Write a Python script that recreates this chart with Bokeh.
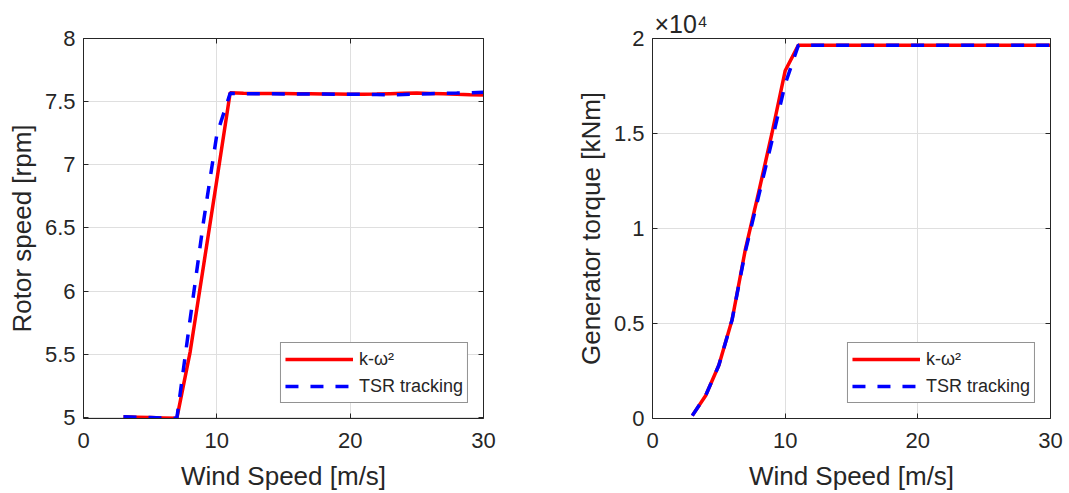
from bokeh.plotting import figure
from bokeh.layouts import row
from bokeh.models import Range1d, LinearAxis, FixedTicker, Title, Legend, LegendItem
from bokeh.embed import file_html
from bokeh.resources import INLINE

# ---------------- data ----------------
wind_speed = list(range(3, 31))

rotor_k_omega2 = [5.005, 5.002, 4.999, 4.996, 4.993, 5.52, 6.20, 6.88, 7.571,
                  7.566, 7.565, 7.565, 7.564, 7.563, 7.562, 7.561, 7.560, 7.558,
                  7.558, 7.560, 7.563, 7.566, 7.568, 7.565, 7.562, 7.558, 7.555, 7.553]
rotor_tsr = [5.005, 5.002, 4.999, 4.996, 4.993, 5.78, 6.55, 7.24, 7.566,
             7.563, 7.562, 7.562, 7.561, 7.561, 7.560, 7.560, 7.559, 7.559,
             7.558, 7.556, 7.553, 7.556, 7.560, 7.563, 7.566, 7.568, 7.571, 7.574]

torque_k_omega2 = [150, 1200, 2800, 5200, 8900, 11900, 15000, 18300, 19650] + [19650] * 19
torque_tsr = [150, 1200, 2800, 5200, 8800, 11700, 14600, 17600, 19650] + [19650] * 19

x_ticks = [0, 10, 20, 30]
rotor_ticks = [5, 5.5, 6, 6.5, 7, 7.5, 8]
rotor_tick_labels = ["5", "5.5", "6", "6.5", "7", "7.5", "8"]
torque_ticks = [0, 5000, 10000, 15000, 20000]
torque_tick_labels = ["0", "0.5", "1", "1.5", "2"]
torque_exponent = "×10⁴"

series_labels = ["k-ω²", "TSR tracking"]
x_label = "Wind Speed [m/s]"

FONT = "Liberation Sans"
TXT = "#262626"
GRID = "#dfdfdf"


def style_axis(ax, ticks, labels=None, show_labels=True):
    ax.ticker = FixedTicker(ticks=ticks)
    if labels is not None:
        ax.major_label_overrides = {t: l for t, l in zip(ticks, labels)}
    ax.axis_line_color = TXT
    ax.axis_line_width = 1
    ax.major_tick_line_color = TXT
    ax.major_tick_in = 5
    ax.major_tick_out = 0
    ax.minor_tick_line_color = None
    ax.major_label_text_font = FONT
    ax.major_label_text_font_size = "22px" if show_labels else "0px"
    ax.major_label_text_color = TXT if show_labels else None
    ax.major_label_standoff = 8
    ax.axis_label_text_font = FONT
    ax.axis_label_text_font_size = "26px"
    ax.axis_label_text_font_style = "normal"
    ax.axis_label_text_color = TXT


def make_fig(width, left, right, y_range, y_ticks, y_labels, y_title, ys_red, ys_blue):
    p = figure(width=width, height=493, output_backend="svg", toolbar_location=None,
               x_range=Range1d(0, 30), y_range=y_range,
               min_border_left=left, min_border_right=right,
               min_border_top=38, min_border_bottom=75)
    p.outline_line_color = None
    p.background_fill_color = "white"
    p.border_fill_color = "white"
    style_axis(p.xaxis[0], x_ticks)
    style_axis(p.yaxis[0], y_ticks, y_labels)
    p.xaxis[0].major_label_standoff = 14
    p.xaxis[0].axis_label = x_label
    p.xaxis[0].axis_label_standoff = 10
    p.yaxis[0].axis_label = y_title
    p.yaxis[0].axis_label_standoff = 5
    top = LinearAxis()
    style_axis(top, x_ticks, show_labels=False)
    rgt = LinearAxis()
    style_axis(rgt, y_ticks, show_labels=False)
    p.add_layout(top, "above")
    p.add_layout(rgt, "right")
    p.xgrid.ticker = FixedTicker(ticks=x_ticks)
    p.ygrid.ticker = FixedTicker(ticks=y_ticks)
    p.xgrid.grid_line_color = GRID
    p.ygrid.grid_line_color = GRID
    r1 = p.line(wind_speed, ys_red, line_color="#ff0000", line_width=3.5)
    r2 = p.line(wind_speed, ys_blue, line_color="#0000ff", line_width=3.5, line_dash="13 12")
    leg = Legend(items=[LegendItem(label=series_labels[0], renderers=[r1]),
                        LegendItem(label=series_labels[1], renderers=[r2])],
                 location="bottom_right")
    leg.margin = 15
    leg.padding = 4
    leg.spacing = 3
    leg.glyph_width = 68
    leg.glyph_height = 24
    leg.label_height = 24
    leg.label_standoff = 6
    leg.label_text_font = FONT
    leg.label_text_font_size = "18px"
    leg.label_text_color = TXT
    leg.border_line_color = TXT
    leg.border_line_width = 1
    leg.background_fill_color = "white"
    leg.background_fill_alpha = 1
    p.add_layout(leg, "center")
    return p


p1 = make_fig(560, 83, 77, Range1d(4.992, 8), rotor_ticks, rotor_tick_labels,
              "Rotor speed [rpm]", rotor_k_omega2, rotor_tsr)
p2 = make_fig(509, 92, 19, Range1d(0, 20000), torque_ticks, torque_tick_labels,
              "Generator torque [kNm]", torque_k_omega2, torque_tsr)

p2.add_layout(Title(text=torque_exponent, align="left", offset=2, standoff=1,
                    text_font=FONT, text_font_size="25px", text_font_style="normal",
                    text_color=TXT), "above")

layout = row(p1, p2, spacing=0)
open("out.html", "w").write(file_html(layout, INLINE))
